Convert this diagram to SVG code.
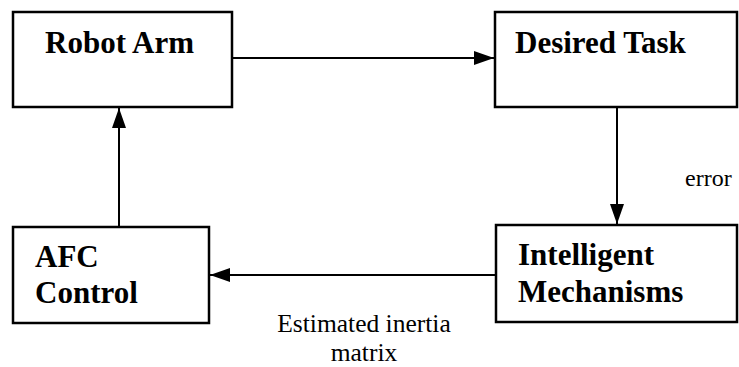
<svg xmlns="http://www.w3.org/2000/svg" width="739" height="367" viewBox="0 0 739 367">
<style>
.box{fill:#fff;stroke:#000;stroke-width:2.5}
.lbl{font-family:"Liberation Serif","Times New Roman",serif;font-weight:bold;font-size:31px;fill:#000}
.sm{font-family:"Liberation Serif","Times New Roman",serif;fill:#000}
.con{stroke:#000;stroke-width:2;fill:none}
</style>
<defs>
<marker id="ah" markerWidth="20" markerHeight="14" refX="20" refY="7" orient="auto" markerUnits="userSpaceOnUse" viewBox="0 0 20 14">
<path d="M0,0 L20,7 L0,14 Z" fill="#000"/>
</marker>
</defs>
<rect width="739" height="367" fill="#fff"/>
<g id="robot-arm">
<rect class="box" x="13" y="12" width="219" height="95"/>
<text class="lbl" x="45" y="53">Robot Arm</text>
</g>
<g id="desired-task">
<rect class="box" x="495" y="12" width="242" height="95"/>
<text class="lbl" x="515" y="53">Desired Task</text>
</g>
<g id="intelligent-mechanisms">
<rect class="box" x="496" y="225" width="241" height="97"/>
<text class="lbl" x="518" y="265">Intelligent</text>
<text class="lbl" x="518" y="302">Mechanisms</text>
</g>
<g id="afc-control">
<rect class="box" x="13" y="227" width="196" height="96"/>
<text class="lbl" x="35" y="267">AFC</text>
<text class="lbl" x="35" y="303">Control</text>
</g>
<g id="connectors">
<line class="con" x1="232" y1="58" x2="494" y2="58" marker-end="url(#ah)"/>
<line class="con" x1="617" y1="107" x2="617" y2="224" marker-end="url(#ah)"/>
<line class="con" x1="496" y1="275" x2="210" y2="275" marker-end="url(#ah)"/>
<line class="con" x1="119" y1="227" x2="119" y2="108" marker-end="url(#ah)"/>
<text class="sm" x="685" y="186" font-size="24">error</text>
<text class="sm" x="364" y="332" font-size="25.5" text-anchor="middle">Estimated inertia</text>
<text class="sm" x="364" y="361" font-size="25.5" text-anchor="middle">matrix</text>
</g>
</svg>
